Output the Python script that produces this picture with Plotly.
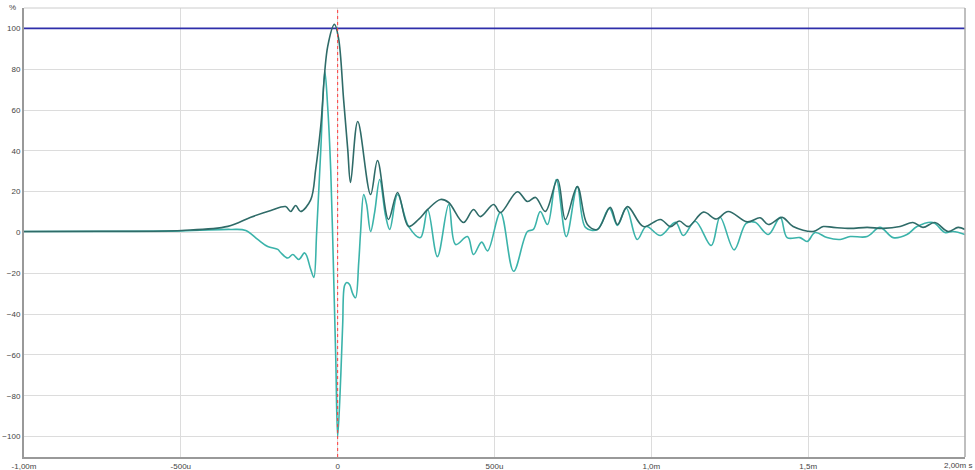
import plotly.graph_objects as go

# Envelope (dark) : time in microseconds, value in %
env_t = [-1000, -755, -497, -350, -277, -213, -166, -150, -134, -118, -86, -70, -54, -32, -10, 3, 19, 32, 41,
         64, 105, 127, 162, 191, 226, 258, 287, 328, 354, 401, 433, 455, 497, 519, 573, 605, 631, 662, 701,
         726, 764, 796, 828, 869, 892, 924, 975, 1029, 1061, 1089, 1118, 1166, 1207, 1245, 1306, 1347, 1373,
         1417, 1452, 1516, 1548, 1580, 1634, 1688, 1739, 1793, 1834, 1866, 1904, 1946, 1978, 2000]
env_v = [0.5, 0.6, 1.0, 3.0, 7.5, 10.8, 12.7, 10.3, 13.2, 10.3, 16, 31, 52, 91, 102, 95, 65, 41, 24.5,
         54.4, 18.6, 35.3, 6.4, 19.6, 3, 6.4, 11.3, 16.2, 14.7, 4.9, 11.3, 7.8, 13.7, 9.8, 20, 15.2, 17.2, 10.3, 26,
         6.4, 22.5, 3.9, 1.5, 12.3, 3.9, 12.7, 2.9, 6.4, 2.9, 5.6, 2.9, 10, 6.6, 10.3, 5.2, 7.2, 3.9,
         7.4, 2.9, 0.5, 2.9, 2.5, 2.0, 2.5, 2.0, 2.9, 4.9, 2.5, 4.9, 0.5, 2.5, 1.5]

# Impulse (light)
imp_t = [-1000, -497, -341, -293, -255, -223, -191, -182, -159, -143, -124, -105, -86, -76, -67, -54, -41, -32,
         -22, -13, -6, 0, 10, 16, 22, 29, 38, 48, 57, 67, 73, 83, 92, 105, 118, 134, 153, 166, 191, 226, 264,
         287, 318, 354, 376, 414, 433, 459, 478, 519, 561, 605, 624, 646, 669, 697, 729, 764, 790, 828, 866,
         892, 920, 955, 984, 1029, 1077, 1102, 1140, 1191, 1219, 1264, 1302, 1331, 1373, 1411, 1433, 1474,
         1497, 1522, 1560, 1602, 1634, 1688, 1729, 1771, 1815, 1847, 1898, 1936, 1962, 2000]
imp_v = [0.5, 0.8, 1.5, 1.0, -3.4, -6.9, -8.3, -9.8, -12.5, -10.8, -13.2, -10, -18, -22, 0, 40, 79, 62,
         30, -20, -62, -100, -70, -45, -26, -24.5, -25.5, -30, -32, -15, 0, 18.6, 14, 0.5, 10, 26, 8, 1.5, 18.6, 3, -2.5,
         11.3, -11.8, 13.7, -5.9, -2, -10.8, -4.7, -9, 9.8, -19, 0.5, 1.5, 10.3, 3.9, 26, -2, 22.5, 2.5, 1.5, 11.8,
         3.5, 12, -3.4, 2.9, -1.5, 5, -1.5, 5.5, -6.4, 7.5, -8.5, 4.5, 5, -1, 7.4, -2.5, -2.5,
         -4.4, 0, -2.5, -3.4, -2, -2, 2.5, -2.5, -1, 2.9, 4.9, 0, 0.5, -1]

ref_level = [100, 100]
ref_t = [-1000, 2000]

x_ticks = [-1000, -500, 0, 500, 1000, 1500, 2000]
x_labels = ["-1,00m", "-500u", "0", "500u", "1,0m", "1,5m", ""]
x_last_label = "2,00m s"
y_ticks = [-100, -80, -60, -40, -20, 0, 20, 40, 60, 80, 100]

fig = go.Figure()
fig.add_trace(go.Scatter(x=ref_t, y=ref_level, mode="lines",
                         line=dict(color="#2e2eaa", width=1.8), hoverinfo="skip"))
fig.add_trace(go.Scatter(x=imp_t, y=imp_v, mode="lines",
                         line=dict(color="#3bb3aa", width=1.6, shape="spline", smoothing=1.0), hoverinfo="skip"))
fig.add_trace(go.Scatter(x=env_t, y=env_v, mode="lines",
                         line=dict(color="#2f6b68", width=1.6, shape="spline", smoothing=1.0), hoverinfo="skip"))

fig.add_shape(type="line", x0=0, x1=0, y0=0, y1=1, xref="x", yref="paper",
              line=dict(color="#ff3a3a", width=1, dash="dot"), layer="above")

fig.update_layout(
    width=975, height=470,
    margin=dict(l=24, r=10, t=8, b=13),
    paper_bgcolor="white", plot_bgcolor="white",
    showlegend=False,
    font=dict(family="Liberation Sans, Arial, sans-serif", size=8, color="#444"),
    xaxis=dict(range=[-1000, 2000], tickvals=x_ticks, ticktext=x_labels, automargin=False,
               showgrid=True, gridcolor="#dcdcdc", gridwidth=1, zeroline=False,
               showline=True, linecolor="#999", linewidth=2, mirror=False,
               ticks="", ticklen=0, tickfont=dict(size=8, color="#444")),
    yaxis=dict(range=[-110, 110], tickvals=y_ticks, automargin=False,
               showgrid=True, gridcolor="#dcdcdc", gridwidth=1, zeroline=False,
               showline=True, linecolor="#999", linewidth=2,
               ticks="", tickfont=dict(size=8, color="#444")),
    annotations=[
        dict(text="%", x=0, y=1, xref="paper", yref="paper", xanchor="right", yanchor="bottom",
             xshift=-6, yshift=-6, showarrow=False, font=dict(size=8, color="#444")),
        dict(text=x_last_label, x=2000, y=0, xref="x", yref="paper", xanchor="right", yanchor="top",
             xshift=9, yshift=-2, showarrow=False, font=dict(size=8, color="#444")),
    ],
)
# light frame on top/right
fig.add_shape(type="line", x0=0, x1=1, y0=1, y1=1, xref="paper", yref="paper",
              line=dict(color="#cccccc", width=1))
fig.add_shape(type="line", x0=1, x1=1, y0=0, y1=1, xref="paper", yref="paper",
              line=dict(color="#aaaaaa", width=1.5))

fig.write_html("out.html", config={"displayModeBar": False},
               post_script="document.body.style.margin='0';document.body.style.overflow='hidden';")
